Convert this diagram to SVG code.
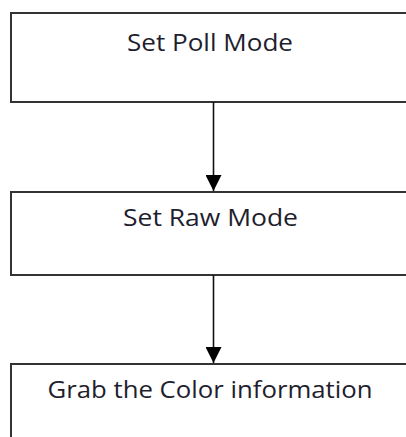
<svg xmlns="http://www.w3.org/2000/svg" width="406" height="437" viewBox="0 0 406 437">
<defs>
<style>
.box{fill:#fff;stroke:#333;stroke-width:2}
.lbl{font-family:"Open Sans","Noto Sans",sans-serif;font-size:24.5px;fill:#1e1e2e;text-anchor:middle}
.conn{stroke:#111;stroke-width:1.6;fill:none}
</style>
<marker id="ah" markerWidth="16" markerHeight="16" viewBox="0 0 16 16" refX="16" refY="8" orient="auto" markerUnits="userSpaceOnUse">
<path d="M0,0 L16,8 L0,16 Z" fill="#000"/>
</marker>
</defs>
<rect width="406" height="437" fill="#fff"/>
<g id="node1"><rect class="box" x="11" y="13" width="405" height="89"/><text class="lbl" x="210" y="51" textLength="166" lengthAdjust="spacingAndGlyphs">Set Poll Mode</text></g>
<g id="node2"><rect class="box" x="11" y="192" width="405" height="83"/><text class="lbl" x="210.5" y="226" textLength="175" lengthAdjust="spacingAndGlyphs">Set Raw Mode</text></g>
<g id="node3"><rect class="box" x="11" y="364" width="405" height="90"/><text class="lbl" x="210" y="398" textLength="325" lengthAdjust="spacingAndGlyphs">Grab the Color information</text></g>
<g id="connectors">
<path class="conn" d="M213.5,102 L213.5,191" marker-end="url(#ah)"/>
<path class="conn" d="M213.5,275 L213.5,363" marker-end="url(#ah)"/>
</g>
</svg>
